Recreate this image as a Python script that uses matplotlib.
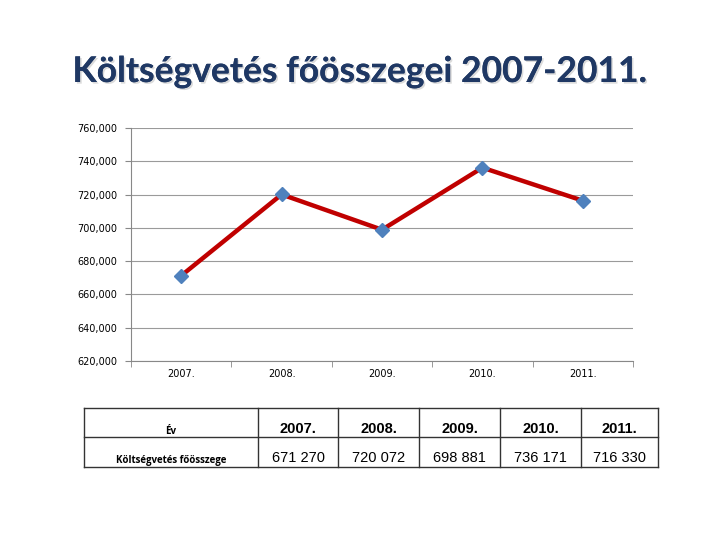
import matplotlib.pyplot as plt
import matplotlib.patheffects as pe
from matplotlib.ticker import FuncFormatter
from matplotlib.lines import Line2D

years = ['2007.', '2008.', '2009.', '2010.', '2011.']
totals = [671270, 720072, 698881, 736171, 716330]
row_labels = ['Év', 'Költségvetés főösszege']

W, H = 720, 540
fig = plt.figure(figsize=(7.2, 5.4), dpi=100)
fig.patch.set_facecolor('white')

def fx(px):
    return px / W

def fy(py):
    return 1 - py / H

# title
fig.text(fx(359), fy(72), 'Költségvetés főösszegei 2007-2011.', ha='center', va='center',
         fontsize=25.5, fontweight='bold', family='Lato', color='#1F3864',
         path_effects=[pe.withSimplePatchShadow(offset=(1.2, -1.2), shadow_rgbFace='#b0b0b0', alpha=0.45),
                       pe.Normal()])

# chart
ax = fig.add_axes([fx(131), fy(361), fx(633) - fx(131), fy(128) - fy(361)])
x = list(range(len(years)))
ax.plot(x, totals, color='#C00000', lw=3.2, marker='D', markersize=7,
        markerfacecolor='#4F81BD', markeredgecolor='#4F81BD', zorder=3)
ax.set_xlim(-0.5, len(years) - 0.5)
ax.set_ylim(620000, 760000)
ax.set_yticks(range(620000, 760001, 20000))
ax.yaxis.set_major_formatter(FuncFormatter(lambda v, p: f'{int(v):,}'))
ax.set_xticks(x)
ax.set_xticklabels(years)
ax.set_xticks([i - 0.5 for i in range(len(years) + 1)], minor=True)
ax.tick_params(axis='x', which='major', length=0, labelsize=7, pad=6)
ax.tick_params(axis='x', which='minor', length=4, color='#888888')
ax.tick_params(axis='y', labelsize=7, length=4, color='#888888', pad=6)
ax.grid(axis='y', color='#9a9a9a', lw=0.8)
ax.set_axisbelow(True)
for s in ['top', 'right']:
    ax.spines[s].set_visible(False)
for s in ['left', 'bottom']:
    ax.spines[s].set_color('#888888')

# table
left, right = 84, 658
top, mid, bottom = 408, 437, 467
cols = [84, 258, 338, 419, 500, 581, 658]
for yy in (top, mid, bottom):
    fig.add_artist(Line2D([fx(left), fx(right)], [fy(yy), fy(yy)], color='#333333', lw=1))
for xx in cols:
    fig.add_artist(Line2D([fx(xx), fx(xx)], [fy(top), fy(bottom)], color='#333333', lw=1))

fig.text(fx((cols[0] + cols[1]) / 2), fy(431), row_labels[0], ha='center', va='center',
         fontsize=7, fontweight='bold', family='Open Sans')
fig.text(fx((cols[0] + cols[1]) / 2), fy(461), row_labels[1], ha='center', va='center',
         fontsize=7, fontweight='bold', family='Open Sans')
for i, (yr, val) in enumerate(zip(years, totals)):
    cx = (cols[i + 1] + cols[i + 2]) / 2
    fig.text(fx(cx), fy(429), yr, ha='center', va='center', fontsize=10.5,
             fontweight='bold', family='Liberation Sans')
    fig.text(fx(cx), fy(458), f'{val:,}'.replace(',', ' '), ha='center', va='center',
             fontsize=10.5, family='Liberation Sans')

fig.savefig('out.png', dpi=100)
